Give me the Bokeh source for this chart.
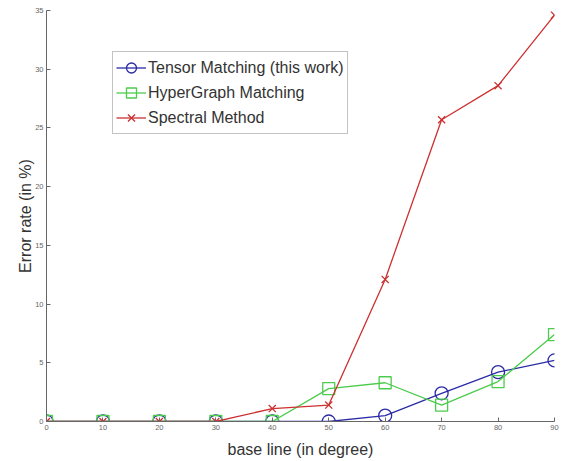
from bokeh.plotting import figure
from bokeh.models import Range1d, FixedTicker, Legend, LegendItem
from bokeh.embed import file_html
from bokeh.resources import INLINE

base_line = [0, 10, 20, 30, 40, 50, 60, 70, 80, 90]
tensor = [0, 0, 0, 0, 0, 0, 0.5, 2.4, 4.2, 5.2]
hypergraph = [0, 0, 0, 0, 0, 2.8, 3.3, 1.4, 3.4, 7.4]
spectral = [0, 0, 0, 0, 1.1, 1.4, 12.1, 25.7, 28.6, 34.6]
x_ticks = [0, 10, 20, 30, 40, 50, 60, 70, 80, 90]
y_ticks = [0, 5, 10, 15, 20, 25, 30, 35]

FONT = "Liberation Sans"
BLUE = "#2a2aa6"
GREEN = "#4ccc4c"
RED = "#cc3030"

p = figure(frame_width=508, frame_height=411, output_backend="svg", toolbar_location=None,
           x_range=Range1d(0, 90), y_range=Range1d(0, 35),
           min_border_left=46, min_border_right=6, min_border_top=10, min_border_bottom=38)
p.outline_line_color = None
p.grid.grid_line_color = None
p.background_fill_color = "white"

for ax in (p.xaxis[0], p.yaxis[0]):
    ax.axis_line_color = "#666666"
    ax.major_tick_line_color = "#666666"
    ax.minor_tick_line_color = None
    ax.major_tick_in = 4
    ax.major_tick_out = 0
    ax.major_label_text_font = FONT
    ax.major_label_text_font_size = "7.5px"
    ax.major_label_text_color = "#666666"
    ax.axis_label_text_font = FONT
    ax.axis_label_text_font_size = "16px"
    ax.axis_label_text_font_style = "normal"
    ax.axis_label_text_color = "#333333"
    ax.major_label_standoff = 3

p.xaxis[0].axis_label_standoff = 8
p.yaxis[0].axis_label_standoff = -2
p.xaxis[0].ticker = FixedTicker(ticks=x_ticks)
p.yaxis[0].ticker = FixedTicker(ticks=y_ticks)
p.xaxis[0].axis_label = "base line (in degree)"
p.yaxis[0].axis_label = "Error rate (in %)"

l1 = p.line(base_line, tensor, line_color=BLUE, line_width=1.3)
m1 = p.scatter(base_line, tensor, marker="circle", size=13, fill_color=None,
               line_color=BLUE, line_width=1.3)
l2 = p.line(base_line, hypergraph, line_color=GREEN, line_width=1.3)
m2 = p.scatter(base_line, hypergraph, marker="square", size=12, fill_color=None,
               line_color=GREEN, line_width=1.3)
l3 = p.line(base_line, spectral, line_color=RED, line_width=1.3)
m3 = p.scatter(base_line, spectral, marker="x", size=10,
               line_color=RED, line_width=1.3)

legend = Legend(items=[
    LegendItem(label="Tensor Matching (this work)", renderers=[l1, m1]),
    LegendItem(label="HyperGraph Matching", renderers=[l2, m2]),
    LegendItem(label="Spectral Method", renderers=[l3, m3]),
], location=(66, 287))
legend.label_text_font = FONT
legend.label_text_font_size = "16px"
legend.label_text_color = "#333333"
legend.border_line_color = "#888888"
legend.border_line_width = 1
legend.padding = 3
legend.margin = 0
legend.spacing = 0
legend.label_height = 25
legend.glyph_height = 25
legend.glyph_width = 30
legend.label_standoff = 2
legend.background_fill_alpha = 1
p.add_layout(legend, "center")

open("out.html", "w").write(file_html(p, INLINE))
